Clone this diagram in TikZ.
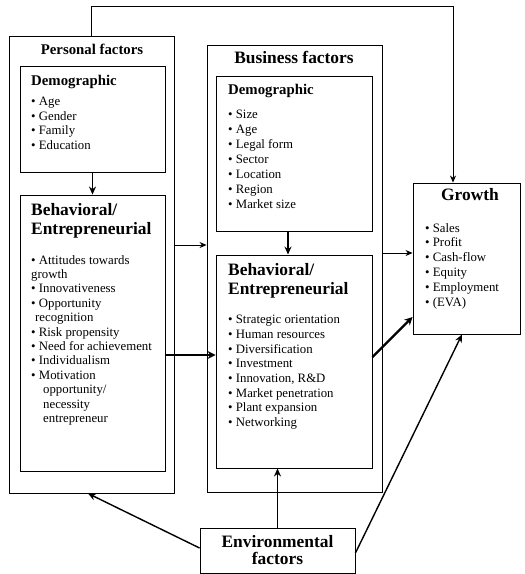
\documentclass[tikz,border=0pt]{standalone}
\usepackage{fontspec}
\setmainfont{Liberation Serif}
\usetikzlibrary{arrows.meta}

\begin{document}
\begin{tikzpicture}[x=1pt,y=-1pt,
  box/.style={draw,line width=0.9pt,inner sep=0pt},
  head/.style={font=\bfseries\fontsize{17.4}{19}\selectfont,inner sep=0pt,align=left},
  subhead/.style={font=\bfseries\fontsize{14.8}{16}\selectfont,inner sep=0pt},
  items/.style={font=\fontsize{12.8}{14.6}\selectfont,align=left,inner sep=0pt,anchor=north west},
  arr/.style={-{Stealth[length=7pt,width=6pt]},line width=0.9pt},
  midarr/.style={-{Stealth[length=8pt,width=7pt]},line width=1.4pt},
  fatarr/.style={-{Stealth[length=8pt,width=8pt]},line width=2.4pt}]
  \useasboundingbox (0,0) rectangle (525,574);

  % personal factors
  \node[box,minimum width=165pt,minimum height=457pt] (personal) at (91.5,264.5) {};
  \node[subhead,anchor=base] (ptitle) at (92,54) {Personal factors};
  \node[box,minimum width=145pt,minimum height=106pt] (pdemo) at (92.5,119) {};
  \node[subhead,anchor=base west] (pdemotitle) at (31,85) {Demographic};
  \node[items] (pdemolist) at (31,97) {\textbullet\ Age\\ \textbullet\ Gender\\ \textbullet\ Family\\ \textbullet\ Education};
  \node[box,minimum width=145pt,minimum height=276pt] (pbehav) at (92.5,333) {};
  \node[head,anchor=north west] (pbehavtitle) at (31,203) {Behavioral/\\Entrepreneurial};
  \node[items,font=\fontsize{12.8}{14.4}\selectfont] (pbehavlist) at (31,255) {\textbullet\ Attitudes towards\\ growth\\
    \textbullet\ Innovativeness\\ \textbullet\ Opportunity\\ \hspace{4pt}recognition\\
    \textbullet\ Risk propensity\\ \textbullet\ Need for achievement\\ \textbullet\ Individualism\\
    \textbullet\ Motivation\\ \hspace{12pt}opportunity/\\ \hspace{12pt}necessity\\ \hspace{12pt}entrepreneur};

  % business factors
  \node[box,minimum width=175pt,minimum height=447pt] (business) at (294.5,268.5) {};
  \node[head,anchor=base] (btitle) at (294,63) {Business factors};
  \node[box,minimum width=156pt,minimum height=155pt] (bdemo) at (294,153.5) {};
  \node[subhead,anchor=base west] (bdemotitle) at (228,94) {Demographic};
  \node[items,font=\fontsize{12.8}{15}\selectfont] (bdemolist) at (228,110) {\textbullet\ Size\\ \textbullet\ Age\\ \textbullet\ Legal form\\
    \textbullet\ Sector\\ \textbullet\ Location\\ \textbullet\ Region\\ \textbullet\ Market size};
  \node[box,minimum width=156pt,minimum height=213pt] (bbehav) at (294,361.5) {};
  \node[head,anchor=north west] (bbehavtitle) at (228,263) {Behavioral/\\Entrepreneurial};
  \node[items,font=\fontsize{12.8}{14.7}\selectfont] (bbehavlist) at (228,315) {\textbullet\ Strategic orientation\\ \textbullet\ Human resources\\
    \textbullet\ Diversification\\ \textbullet\ Investment\\ \textbullet\ Innovation, R\&D\\
    \textbullet\ Market penetration\\ \textbullet\ Plant expansion\\ \textbullet\ Networking};

  % growth
  \node[box,minimum width=107pt,minimum height=151pt] (growth) at (466.5,258.5) {};
  \node[head,anchor=base] (gtitle) at (470,200) {Growth};
  \node[items,font=\fontsize{12.8}{14.8}\selectfont] (glist) at (425,223) {\textbullet\ Sales\\ \textbullet\ Profit\\ \textbullet\ Cash-flow\\
    \textbullet\ Equity\\ \textbullet\ Employment\\ \textbullet\ (EVA)};

  % environment
  \node[box,minimum width=155pt,minimum height=45pt,align=center,
    font=\bfseries\fontsize{17.4}{17}\selectfont] (environ) at (277.5,550.5) {Environmental\\factors};

  % connectors
  \draw[arr] (personal.north) -- ++(0,-29) -| ([xshift=-13.5pt]growth.north);
  \draw[midarr] (pdemo.south) -- (pbehav.north);
  \draw[midarr] ([xshift=-6pt]bdemo.south) -- ([xshift=-6pt]bbehav.north);
  \draw[arr] ([yshift=19.5pt]personal.east) -- ([yshift=19.5pt]personal.east -| business.west);
  \draw[fatarr] ([yshift=-22pt]pbehav.east) -- ([yshift=-22pt]pbehav.east -| bbehav.west);
  \draw[arr] ([yshift=15.5pt]business.east) -- ([yshift=15.5pt]business.east -| growth.west);
  \draw[fatarr] ([yshift=4.5pt]bbehav.east) -- ([yshift=-58.5pt]growth.west);
  \draw[midarr] ([yshift=2.5pt]environ.west) -- ([xshift=-3.5pt]personal.south);
  \draw[midarr] (environ.north) -- (environ.north |- bbehav.south);
  \draw[midarr] ([yshift=-2.5pt]environ.east) -- ([xshift=-4.5pt]growth.south);
\end{tikzpicture}
\end{document}
